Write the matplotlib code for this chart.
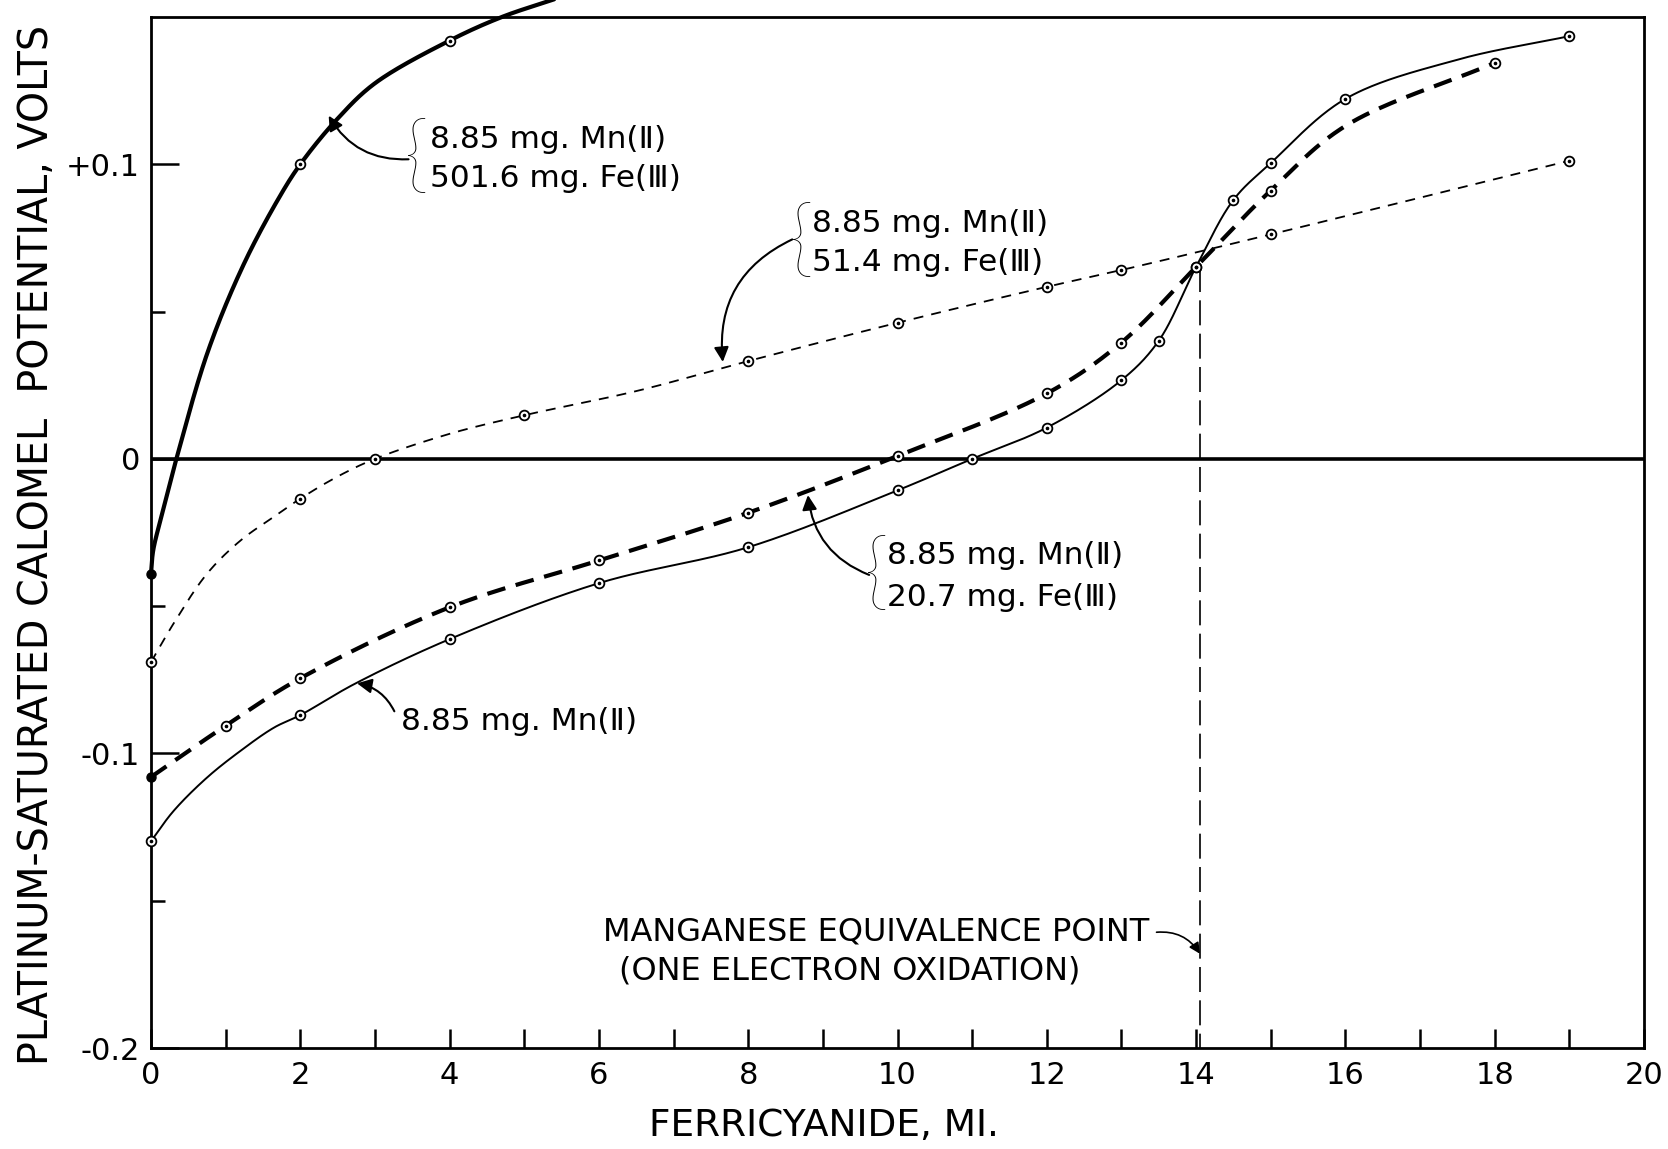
import numpy as np
import matplotlib
matplotlib.use("Agg")
import matplotlib.pyplot as plt

plt.rcParams['font.family'] = ['DejaVu Sans']

# ---------------- data ----------------
# 8.85 mg Mn(II) + 501.6 mg Fe(III)  (heavy solid)
fe501_mx = [0, 2, 4]
fe501_my = [-0.039, 0.100, 0.142]
fe501_cx = [0, 0.03, 0.15, 0.34, 0.76, 1.23, 1.7, 2, 2.5, 3.0, 4, 4.7, 5.4]
fe501_cy = [-0.039, -0.031, -0.0186, 0.0, 0.0363, 0.0654, 0.088, 0.100, 0.1155,
            0.1275, 0.142, 0.150, 0.156]

# 8.85 mg Mn(II) + 51.4 mg Fe(III)  (light dashed)
fe51_mx = [0, 2, 3, 5, 8, 10, 12, 13, 15, 19]
fe51_my = [-0.069, -0.0135, 0.0, 0.0148, 0.0332, 0.0462, 0.0584, 0.0641, 0.0762, 0.1012]
fe51_cx = [0, 0.3, 0.75, 1.2, 1.65, 2, 2.5, 3, 4, 5, 6.5, 8, 10, 12, 13, 15, 19]
fe51_cy = [-0.069, -0.056, -0.039, -0.0277, -0.0196, -0.0135, -0.006, 0.0, 0.0085,
           0.0148, 0.023, 0.0332, 0.0462, 0.0584, 0.0641, 0.0762, 0.1012]

# 8.85 mg Mn(II) + 20.7 mg Fe(III)  (heavy dashed)
fe20_mx = [0, 1, 2, 4, 6, 8, 10, 12, 13, 14, 15, 18]
fe20_my = [-0.108, -0.0906, -0.0745, -0.0504, -0.0345, -0.0183, 0.001, 0.0222,
           0.0395, 0.0652, 0.0911, 0.1344]
fe20_cx = [0, 1, 2, 4, 6, 8, 10, 12, 13, 14, 15, 16, 18]
fe20_cy = [-0.108, -0.0906, -0.0745, -0.0504, -0.0345, -0.0183, 0.001, 0.0222,
           0.0395, 0.0652, 0.0911, 0.113, 0.1344]

# 8.85 mg Mn(II) alone  (light solid)
mn_mx = [0, 2, 4, 6, 8, 10, 11, 12, 13, 13.5, 14, 14.5, 15, 16, 19]
mn_my = [-0.1298, -0.087, -0.0612, -0.0422, -0.030, -0.0107, 0.0, 0.0106, 0.0267,
         0.0401, 0.0652, 0.0879, 0.1004, 0.1222, 0.1435]
mn_cx = [0, 0.3, 0.75, 1.2, 1.65, 2, 2.72, 4, 6, 8, 10, 11, 12, 13, 13.5, 14, 14.5,
         15, 16, 17.5, 19]
mn_cy = [-0.1298, -0.1196, -0.1082, -0.0991, -0.0912, -0.087, -0.0765, -0.0612,
         -0.0422, -0.030, -0.0107, 0.0, 0.0106, 0.0267, 0.0401, 0.0652, 0.0879,
         0.1004, 0.1222, 0.1355, 0.1435]

equiv_x = 14.05
equiv_top = 0.0652

xticks_major = [0, 2, 4, 6, 8, 10, 12, 14, 16, 18, 20]
yticks_major = [-0.2, -0.1, 0.0, 0.1]
ytick_labels = ["-0.2", "-0.1", "0", "+0.1"]


def smooth(xs, ys, n=40, sx=74.6, sy=2940.0):
    p = np.column_stack([np.asarray(xs, float) * sx, np.asarray(ys, float) * sy])
    p = np.vstack([2 * p[0] - p[1], p, 2 * p[-1] - p[-2]])
    out = []
    for i in range(1, len(p) - 2):
        p0, p1, p2, p3 = p[i - 1], p[i], p[i + 1], p[i + 2]
        t0 = 0.0
        t1 = t0 + np.linalg.norm(p1 - p0) ** 0.5
        t2 = t1 + np.linalg.norm(p2 - p1) ** 0.5
        t3 = t2 + np.linalg.norm(p3 - p2) ** 0.5
        t = np.linspace(t1, t2, n)[:, None]
        A1 = (t1 - t) / (t1 - t0) * p0 + (t - t0) / (t1 - t0) * p1
        A2 = (t2 - t) / (t2 - t1) * p1 + (t - t1) / (t2 - t1) * p2
        A3 = (t3 - t) / (t3 - t2) * p2 + (t - t2) / (t3 - t2) * p3
        B1 = (t2 - t) / (t2 - t0) * A1 + (t - t0) / (t2 - t0) * A2
        B2 = (t3 - t) / (t3 - t1) * A2 + (t - t1) / (t3 - t1) * A3
        C = (t2 - t) / (t2 - t1) * B1 + (t - t1) / (t2 - t1) * B2
        out.append(C if i == 1 else C[1:])
    c = np.vstack(out)
    return c[:, 0] / sx, c[:, 1] / sy


fig = plt.figure(figsize=(16.68, 11.49), dpi=100)
ax = fig.add_axes([151 / 1668, 1 - 1048 / 1149, (1644 - 151) / 1668, (1048 - 17) / 1149])
ax.set_xlim(0, 20)
ax.set_ylim(-0.2, 0.15)

for s in ax.spines.values():
    s.set_linewidth(2.0)

# zero line
ax.axhline(0, color='k', lw=2.6, zorder=2)

# curves
x, y = smooth(fe501_cx, fe501_cy)
ax.plot(x, y, color='k', lw=3.0, clip_on=False, zorder=3, solid_capstyle='round')

x, y = smooth(fe51_cx, fe51_cy)
ax.plot(x, y, color='k', lw=1.3, ls=(0, (5.5, 4.5)), zorder=3)

x, y = smooth(fe20_cx, fe20_cy)
ax.plot(x, y, color='k', lw=3.0, ls=(0, (4.5, 2.6)), zorder=3)

x, y = smooth(mn_cx, mn_cy)
ax.plot(x, y, color='k', lw=1.4, zorder=3)

# equivalence line
ax.plot([equiv_x, equiv_x], [equiv_top, -0.2], color='k', lw=1.2, ls=(0, (15, 5)), zorder=2)


def markers(mx, my, filled_first=False):
    mx = list(mx)
    my = list(my)
    if filled_first:
        ax.plot(mx[:1], my[:1], 'o', color='k', ms=6.5, zorder=6, clip_on=False)
        mx, my = mx[1:], my[1:]
    ax.plot(mx, my, 'o', mfc='white', mec='k', ms=7, mew=1.3, zorder=5, clip_on=False)
    ax.plot(mx, my, 'o', color='k', ms=1.6, zorder=6, clip_on=False)


markers(fe501_mx, fe501_my, filled_first=True)
markers(fe51_mx, fe51_my)
markers(fe20_mx, fe20_my, filled_first=True)
markers(mn_mx, mn_my)

# ticks
ax.set_xticks(xticks_major)
ax.set_xticks(range(0, 21), minor=True)
ax.set_yticks(yticks_major)
ax.set_yticklabels(ytick_labels)
ax.set_yticks([-0.15, -0.05, 0.05], minor=True)
ax.tick_params(axis='x', which='both', direction='in', length=14, width=1.8,
               labelsize=22, pad=9, top=False)
ax.tick_params(axis='y', which='major', direction='in', length=20, width=1.8,
               labelsize=22, pad=8, right=False)
ax.tick_params(axis='y', which='minor', direction='in', length=10, width=1.8, right=False)
ax.tick_params(axis='x', which='minor', labelbottom=False)

# axis labels
fig.text(37 / 1668, 0.526, "PLATINUM-SATURATED CALOMEL  POTENTIAL, VOLTS",
         rotation=90, ha='center', va='center', fontsize=28.5)
fig.text(0.494, 0.02, "FERRICYANIDE, MI.", ha='center', va='center', fontsize=27)

tfs = 22.5
brace_fs = 62


def label(xb, yc, xt, l1, l2, dy):
    ax.text(xb, yc, "{", fontsize=brace_fs, ha='center', va='center',
            family=['Lato', 'DejaVu Sans'], fontweight='light')
    ax.text(xt, yc + dy, l1, fontsize=tfs, ha='left', va='center')
    ax.text(xt, yc - dy, l2, fontsize=tfs, ha='left', va='center')


label(3.55, 0.1017, 3.74, "8.85 mg. Mn(Ⅱ)", "501.6 mg. Fe(Ⅲ)", 0.0066)
label(8.72, 0.0733, 8.86, "8.85 mg. Mn(Ⅱ)", "51.4 mg. Fe(Ⅲ)", 0.0067)
label(9.72, -0.0399, 9.86, "8.85 mg. Mn(Ⅱ)", "20.7 mg. Fe(Ⅲ)", 0.0071)
ax.text(3.35, -0.089, "8.85 mg. Mn(Ⅱ)", fontsize=tfs, ha='left', va='center')

ax.text(6.05, -0.1607, "MANGANESE EQUIVALENCE POINT", fontsize=23, ha='left', va='center')
ax.text(6.27, -0.1737, "(ONE ELECTRON OXIDATION)", fontsize=23, ha='left', va='center')

ap = dict(arrowstyle='-|>', color='k', lw=1.5, mutation_scale=22, shrinkA=0, shrinkB=0)
ax.annotate("", xy=(2.38, 0.1165), xytext=(3.45, 0.1017),
            arrowprops=dict(ap, connectionstyle='arc3,rad=-0.3'))
ax.annotate("", xy=(7.66, 0.0329), xytext=(8.59, 0.0745),
            arrowprops=dict(ap, connectionstyle='arc3,rad=0.35'))
ax.annotate("", xy=(8.80, -0.0123), xytext=(9.62, -0.0394),
            arrowprops=dict(ap, connectionstyle='arc3,rad=-0.3'))
ax.annotate("", xy=(2.76, -0.0762), xytext=(3.26, -0.0857),
            arrowprops=dict(ap, connectionstyle='arc3,rad=0.25'))
ax.annotate("", xy=(14.05, -0.168), xytext=(13.47, -0.1607),
            arrowprops=dict(ap, lw=1.2, mutation_scale=16, connectionstyle='arc3,rad=-0.3'))

fig.savefig("out.png", dpi=100)
